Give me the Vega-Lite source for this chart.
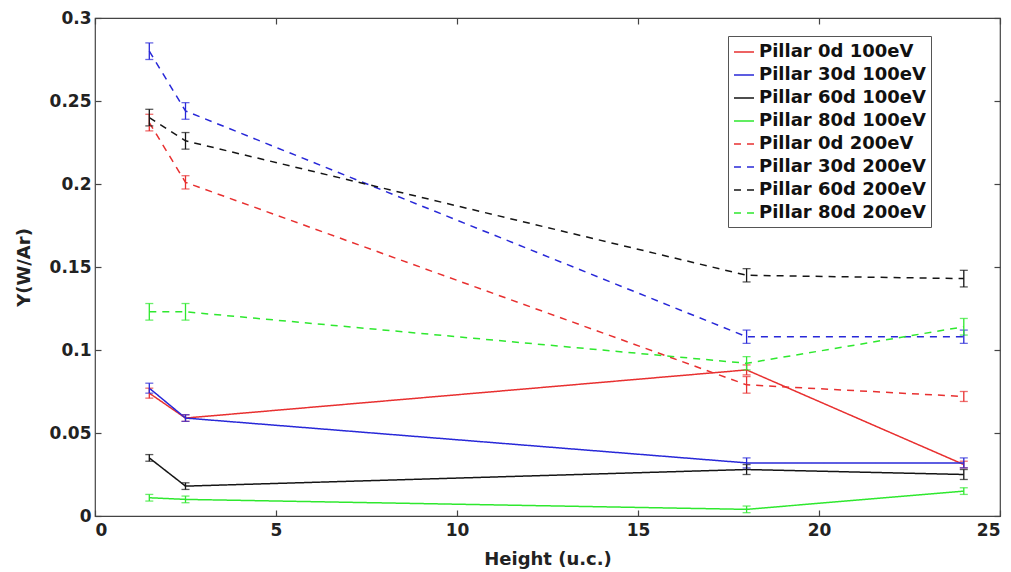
{
  "$schema": "https://vega.github.io/schema/vega-lite/v6.json",
  "width": 905,
  "height": 498,
  "autosize": "none",
  "padding": {"left": 95, "top": 18, "right": 11, "bottom": 56},
  "background": "white",
  "config": {
    "font": "DejaVu Sans",
    "view": {"stroke": "#444", "strokeWidth": 1.2},
    "axis": {
      "labelFont": "DejaVu Sans", "labelFontWeight": "bold", "labelFontSize": 17, "labelColor": "#222",
      "titleFont": "DejaVu Sans", "titleFontWeight": "bold", "titleFontSize": 18, "titleColor": "#222",
      "grid": false, "domain": false, "tickColor": "#444", "tickSize": -6, "tickWidth": 1.2
    }
  },
  "data": {"values": [
    {"series": "Pillar 0d 100eV", "x": 1.5, "y": 0.074, "err": 0.003},
    {"series": "Pillar 0d 100eV", "x": 2.5, "y": 0.059, "err": 0.002},
    {"series": "Pillar 0d 100eV", "x": 18, "y": 0.088, "err": 0.003},
    {"series": "Pillar 0d 100eV", "x": 24, "y": 0.031, "err": 0.002},
    {"series": "Pillar 30d 100eV", "x": 1.5, "y": 0.077, "err": 0.003},
    {"series": "Pillar 30d 100eV", "x": 2.5, "y": 0.059, "err": 0.002},
    {"series": "Pillar 30d 100eV", "x": 18, "y": 0.032, "err": 0.003},
    {"series": "Pillar 30d 100eV", "x": 24, "y": 0.032, "err": 0.003},
    {"series": "Pillar 60d 100eV", "x": 1.5, "y": 0.035, "err": 0.002},
    {"series": "Pillar 60d 100eV", "x": 2.5, "y": 0.018, "err": 0.002},
    {"series": "Pillar 60d 100eV", "x": 18, "y": 0.028, "err": 0.003},
    {"series": "Pillar 60d 100eV", "x": 24, "y": 0.025, "err": 0.003},
    {"series": "Pillar 80d 100eV", "x": 1.5, "y": 0.011, "err": 0.002},
    {"series": "Pillar 80d 100eV", "x": 2.5, "y": 0.010, "err": 0.002},
    {"series": "Pillar 80d 100eV", "x": 18, "y": 0.004, "err": 0.002},
    {"series": "Pillar 80d 100eV", "x": 24, "y": 0.015, "err": 0.002},
    {"series": "Pillar 0d 200eV", "x": 1.5, "y": 0.237, "err": 0.005},
    {"series": "Pillar 0d 200eV", "x": 2.5, "y": 0.201, "err": 0.004},
    {"series": "Pillar 0d 200eV", "x": 18, "y": 0.079, "err": 0.005},
    {"series": "Pillar 0d 200eV", "x": 24, "y": 0.072, "err": 0.003},
    {"series": "Pillar 30d 200eV", "x": 1.5, "y": 0.280, "err": 0.005},
    {"series": "Pillar 30d 200eV", "x": 2.5, "y": 0.244, "err": 0.005},
    {"series": "Pillar 30d 200eV", "x": 18, "y": 0.108, "err": 0.004},
    {"series": "Pillar 30d 200eV", "x": 24, "y": 0.108, "err": 0.004},
    {"series": "Pillar 60d 200eV", "x": 1.5, "y": 0.240, "err": 0.005},
    {"series": "Pillar 60d 200eV", "x": 2.5, "y": 0.226, "err": 0.005},
    {"series": "Pillar 60d 200eV", "x": 18, "y": 0.145, "err": 0.004},
    {"series": "Pillar 60d 200eV", "x": 24, "y": 0.143, "err": 0.005},
    {"series": "Pillar 80d 200eV", "x": 1.5, "y": 0.123, "err": 0.005},
    {"series": "Pillar 80d 200eV", "x": 2.5, "y": 0.123, "err": 0.005},
    {"series": "Pillar 80d 200eV", "x": 18, "y": 0.092, "err": 0.004},
    {"series": "Pillar 80d 200eV", "x": 24, "y": 0.114, "err": 0.005}
  ]},
  "transform": [
    {"calculate": "datum.y - datum.err", "as": "lo"},
    {"calculate": "datum.y + datum.err", "as": "hi"}
  ],
  "resolve": {"axis": {"x": "independent", "y": "independent"}},
  "layer": [
    {
      "mark": {"type": "line", "strokeWidth": 1.5},
      "encoding": {
        "x": {"field": "x", "type": "quantitative", "scale": {"domain": [0, 25], "nice": false},
              "axis": {"title": "Height (u.c.)", "values": [0, 5, 10, 15, 20, 25], "labelPadding": 12, "titlePadding": 12}},
        "y": {"field": "y", "type": "quantitative", "scale": {"domain": [0, 0.3], "nice": false},
              "axis": {"title": "Y(W/Ar)", "values": [0, 0.05, 0.1, 0.15, 0.2, 0.25, 0.3], "format": "~g", "labelPadding": 10, "titlePadding": 16, "labelFlush": false}},
        "color": {
          "field": "series", "type": "nominal",
          "scale": {
            "domain": ["Pillar 0d 100eV", "Pillar 30d 100eV", "Pillar 60d 100eV", "Pillar 80d 100eV", "Pillar 0d 200eV", "Pillar 30d 200eV", "Pillar 60d 200eV", "Pillar 80d 200eV"],
            "range": ["#e83030", "#2828d8", "#151515", "#2ee82e", "#e83030", "#2828d8", "#151515", "#2ee82e"]
          },
          "legend": {
            "title": null, "orient": "none", "legendX": 633, "legendY": 18,
            "symbolType": "stroke", "symbolSize": 400, "symbolStrokeWidth": 1.5,
            "labelFont": "DejaVu Sans", "labelFontWeight": "bold", "labelFontSize": 18, "labelColor": "#111",
            "rowPadding": 3, "padding": 5, "strokeColor": "#555", "fillColor": "white", "labelLimit": 300
          }
        },
        "strokeDash": {
          "field": "series", "type": "nominal",
          "scale": {
            "domain": ["Pillar 0d 100eV", "Pillar 30d 100eV", "Pillar 60d 100eV", "Pillar 80d 100eV", "Pillar 0d 200eV", "Pillar 30d 200eV", "Pillar 60d 200eV", "Pillar 80d 200eV"],
            "range": [[1, 0], [1, 0], [1, 0], [1, 0], [7, 6], [7, 6], [7, 6], [7, 6]]
          },
          "legend": null
        }
      }
    },
    {
      "mark": {"type": "errorbar", "ticks": {"size": 8}, "thickness": 1.3},
      "encoding": {
        "x": {"field": "x", "type": "quantitative", "axis": null},
        "y": {"field": "lo", "type": "quantitative", "axis": null},
        "y2": {"field": "hi"},
        "color": {"field": "series", "type": "nominal", "legend": null}
      }
    },
    {
      "mark": {"type": "point", "opacity": 0},
      "encoding": {
        "x": {"field": "x", "type": "quantitative", "axis": {"orient": "top", "labels": false, "title": null, "values": [0, 5, 10, 15, 20, 25]}},
        "y": {"field": "y", "type": "quantitative", "axis": {"orient": "right", "labels": false, "title": null, "values": [0, 0.05, 0.1, 0.15, 0.2, 0.25, 0.3]}}
      }
    }
  ]
}
